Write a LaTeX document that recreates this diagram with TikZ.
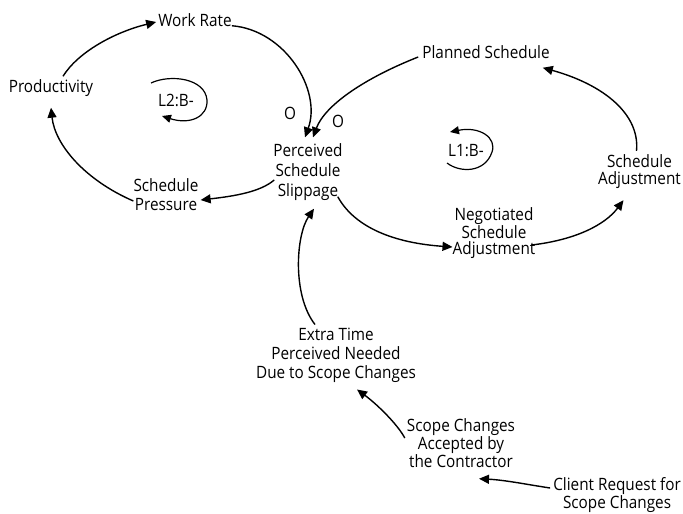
\documentclass[tikz,border=0pt]{standalone}
\usepackage{fontspec}
\setmainfont[FakeStretch=0.9]{Open Sans}
\usetikzlibrary{arrows.meta}
\tikzset{
  lbl/.style={inner sep=1pt, align=center, font=\fontsize{17}{17}\selectfont},
  arr/.style={line width=1.4pt, -{Triangle[length=10pt,width=9pt]}},
  loopa/.style={line width=1.2pt, -{Triangle[length=9pt,width=8pt]}}
}
\begin{document}
\begin{tikzpicture}[x=1pt,y=-1pt]
\useasboundingbox (0,0) rectangle (683,514);
% nodes
\node[lbl] (wr) at (195,20) {Work Rate};
\node[lbl] (prod) at (51,88) {Productivity};
\node[lbl, font=\fontsize{17}{20}\selectfont] (pss) at (308,172) {Perceived\\Schedule\\Slippage};
\node[lbl, font=\fontsize{17}{19}\selectfont] (sp) at (166,195) {Schedule\\Pressure};
\node[lbl] (ps) at (486,52) {Planned Schedule};
\node[lbl, anchor=east] (sa) at (682,172) {Schedule\\Adjustment};
\node[lbl, font=\fontsize{17}{15.5}\selectfont] (nsa) at (494,233) {Negotiated\\Schedule\\Adjustment};
\node[lbl, font=\fontsize{17}{19}\selectfont] (et) at (336,355) {Extra Time\\Perceived Needed\\Due to Scope Changes};
\node[lbl, font=\fontsize{17}{16.5}\selectfont] (sca) at (461,443) {Scope Changes\\Accepted by\\the Contractor};
\node[lbl, font=\fontsize{17}{15.5}\selectfont, anchor=east] (cr) at (682,495) {Client Request for\\Scope Changes};
\node[lbl] (o1) at (290,113) {O};
\node[lbl] (o2) at (338,121) {O};
\node[lbl] (l2) at (176,100) {L2:B-};
\node[lbl] (l1) at (466,151) {L1:B-};
% connectors
\draw[arr] ([xshift=12pt,yshift=2pt]prod.north) .. controls (78,52) and (115,32) .. ([xshift=-1pt,yshift=-2pt]wr.west);
\draw[arr] ([xshift=-1pt,yshift=2pt]wr.south east) .. controls (285,30) and (322,90) .. ([xshift=-3pt,yshift=5pt]pss.north);
\draw[arr] ([xshift=-3pt,yshift=-5pt]ps.west) .. controls (365,78) and (325,105) .. ([xshift=5pt,yshift=5pt]pss.north);
\draw[arr] ([xshift=2pt,yshift=-8pt]pss.west) .. controls (260,192) and (235,196) .. ([xshift=1pt,yshift=-5pt]sp.east);
\draw[arr] ([xshift=1pt,yshift=-6pt]sp.west) .. controls (85,180) and (55,145) .. ([yshift=-10pt]prod.south);
\draw[arr] ([xshift=-6pt,yshift=5pt]pss.south east) .. controls (355,228) and (395,243) .. ([xshift=1pt,yshift=-14pt]nsa.west);
\draw[arr] ([xshift=-5pt,yshift=-12pt]nsa.east) .. controls (575,240) and (605,225) .. ([xshift=-16pt,yshift=-10pt]sa.south);
\draw[arr] ([xshift=-3pt,yshift=3pt]sa.north) .. controls (640,115) and (605,85) .. ([xshift=-8pt,yshift=-8pt]ps.south east);
\draw[arr] ([xshift=-21pt,yshift=2pt]et.north) .. controls (292,295) and (296,235) .. ([xshift=6pt,yshift=-7pt]pss.south);
\draw[arr] ([xshift=-1pt,yshift=5pt]sca.west) .. controls (398,425) and (378,405) .. ([xshift=21pt,yshift=-6pt]et.south);
\draw[arr] ([xshift=-2pt,yshift=7pt]cr.west) .. controls (530,485) and (505,480) .. ([xshift=18pt,yshift=-10pt]sca.south);
% loop symbols
\draw[loopa] (151,83) .. controls (170,74) and (205,78) .. (207,100) .. controls (208,117) and (190,125) .. (162,116);
\draw[loopa] (447,163) .. controls (460,173) and (485,173) .. (492,152) .. controls (497,138) and (480,126) .. (450,132);
\end{tikzpicture}
\end{document}
